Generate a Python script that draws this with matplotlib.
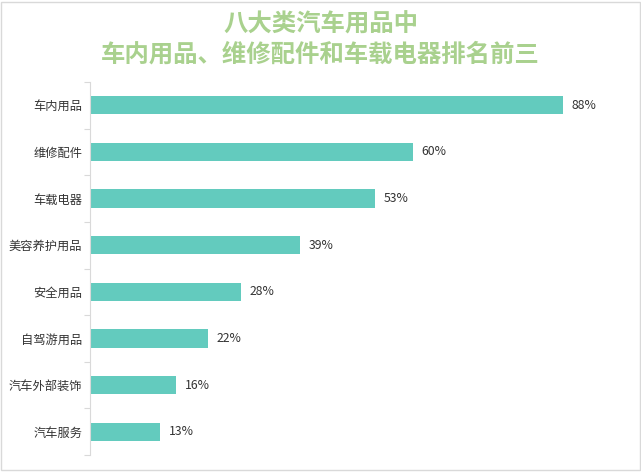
import matplotlib
matplotlib.use("Agg")
import matplotlib.pyplot as plt
from matplotlib.patches import Rectangle
import numpy as np

plt.rcParams['font.family'] = ['Noto Sans CJK SC', 'DejaVu Sans']

categories = ["车内用品", "维修配件", "车载电器", "美容养护用品", "安全用品", "自驾游用品", "汽车外部装饰", "汽车服务"]
values = [88, 60, 53, 39, 28, 22, 16, 13]
value_labels = ["88%", "60%", "53%", "39%", "28%", "22%", "16%", "13%"]
title_lines = ["八大类汽车用品中", "车内用品、维修配件和车载电器排名前三"]

fig = plt.figure(figsize=(6.41, 4.73), dpi=100)
W, H = 641, 473
ax = fig.add_axes([90 / W, 1 - 455 / H, 537.5 / W, (455 - 82) / H])

y = np.arange(len(categories))
ax.barh(y, values, height=0.39, color="#63cbbe")
for yi, v, lab in zip(y, values, value_labels):
    ax.text(v + 1.6, yi, lab, va="center", ha="left", fontsize=8.8, color="#333333")

ax.set_xlim(0, 100)
ax.set_ylim(len(categories) - 0.5, -0.5)
ax.set_yticks(y)
ax.set_yticklabels(categories, fontsize=8.8, color="#333333")
ax.tick_params(axis="y", length=0, pad=5.5)
ax.set_yticks(np.arange(-0.5, len(categories), 1), minor=True)
ax.tick_params(axis="y", which="minor", length=4, color="#d9d9d9", width=0.8)
ax.set_xticks([])
for s in ["top", "right", "bottom"]:
    ax.spines[s].set_visible(False)
ax.spines["left"].set_color("#d9d9d9")
ax.spines["left"].set_linewidth(0.8)

for ty, line in zip([25, 55], title_lines):
    fig.text(0.5, 1 - ty / H, line, ha="center", va="center", fontsize=17.6,
             fontweight="bold", color="#a9d18e")

fig.patches.append(Rectangle((0.002, 0.006), 0.996, 0.99, transform=fig.transFigure,
                             fill=False, edgecolor="#d9d9d9", linewidth=1))

fig.savefig("out.png", dpi=100, facecolor="white")
